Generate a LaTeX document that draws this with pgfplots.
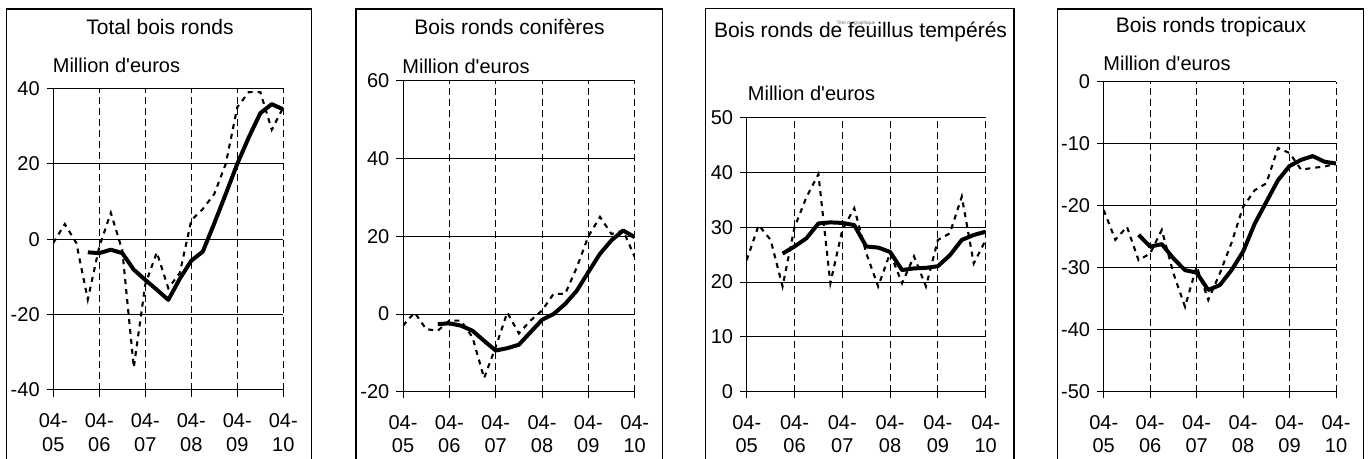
\documentclass[border=0pt]{standalone}
\usepackage{fontspec}
\setmainfont{Liberation Sans}
\usepackage{pgfplots}
\pgfplotsset{compat=1.18}
\pgfplotsset{
  panel/.style={
    scale only axis,
    xmin=0, xmax=20,
    xtick={0,4,8,12,16,20},
    xticklabels={{04-\\05},{04-\\06},{04-\\07},{04-\\08},{04-\\09},{04-\\10}},
    xticklabel style={align=center, font=\fontsize{10}{11.75}\selectfont, yshift=-5pt},
    yticklabel style={font=\fontsize{10}{12}\selectfont},
    axis x line*=bottom, axis y line*=left,
    axis line style={black, line width=0.5pt, -},
    tick align=outside, major tick length=3.3pt,
    tick style={black, line width=0.5pt},
    xmajorgrids, ymajorgrids,
    major x grid style={black, line width=0.5pt, dash pattern=on 3.5pt off 2pt},
    major y grid style={black, line width=0.5pt},
  },
  dsh/.style={black, line width=1.05pt, dash pattern=on 2.5pt off 2.5pt, mark=none},
  sld/.style={black, line width=2pt, mark=none, line join=round},
}
\newcommand{\me}{Million d\textquotesingle euros}
\begin{document}
\begin{tikzpicture}
\useasboundingbox (0,0) rectangle (684pt,229.5pt);
% Panel 1
\begin{axis}[panel, at={(26.65pt,34.5pt)}, anchor=south west, width=115pt, height=150.85pt,
  ymin=-40, ymax=40, ytick={-40,-20,0,20,40}, yticklabels={-40,-20,0,20,40}]
\addplot[dsh] coordinates {(0,-1)(1,4)(2,-1)(3,-16)(4,-2)(5,7)(6,-3)(7,-34)(8,-12)(9,-3.5)(10,-13)(11,-9)(12,5)(13,8)(14,12)(15,20)(16,35)(17,39)(18,39)(19,29)(20,35)};
\addplot[sld] coordinates {(3,-3.5)(4,-3.7)(5,-2.8)(6,-3.7)(7,-8.1)(8,-10.8)(9,-13.4)(10,-16.1)(11,-10.5)(12,-5.7)(13,-3.3)(14,4.2)(15,12)(16,20)(17,27)(18,33.4)(19,35.8)(20,34.4)};
\end{axis}
% Panel 2
\begin{axis}[panel, at={(201.5pt,33.65pt)}, anchor=south west, width=115.85pt, height=155.35pt,
  ymin=-20, ymax=60, ytick={-20,0,20,40,60}, yticklabels={-20,0,20,40,60}]
\addplot[dsh] coordinates {(0,-3)(1,0.4)(2,-3.9)(3,-4.3)(4,-1.7)(5,-1.7)(6,-6)(7,-16.5)(8,-8.5)(9,0.4)(10,-5)(11,-1.7)(12,0.9)(13,5.2)(14,5.2)(15,12)(16,20)(17,25)(18,20.6)(19,21.5)(20,14.7)};
\addplot[sld] coordinates {(3,-2.6)(4,-2.4)(5,-3)(6,-4.3)(7,-6.9)(8,-9.4)(9,-8.8)(10,-7.9)(11,-4.7)(12,-1.5)(13,0)(14,2.6)(15,6)(16,10.8)(17,15.5)(18,19)(19,21.5)(20,19.8)};
\end{axis}
% Panel 3
\begin{axis}[panel, at={(373.35pt,33.65pt)}, anchor=south west, width=119.5pt, height=137pt,
  ymin=0, ymax=50, ytick={0,10,20,30,40,50}, yticklabels={0,10,20,30,40,50}]
\addplot[dsh] coordinates {(0,24)(1,30.4)(2,27.7)(3,19.2)(4,30)(5,35.5)(6,39.7)(7,19.8)(8,29.5)(9,33.5)(10,25.3)(11,19.2)(12,25.3)(13,19.8)(14,24.7)(15,19.2)(16,27.7)(17,28.9)(18,35.6)(19,23.4)(20,27.7)};
\addplot[sld] coordinates {(3,25.2)(4,26.5)(5,28)(6,30.7)(7,30.9)(8,30.8)(9,30.4)(10,26.5)(11,26.3)(12,25.5)(13,22.2)(14,22.5)(15,22.6)(16,22.9)(17,24.9)(18,27.7)(19,28.6)(20,29.2)};
\end{axis}
% Panel 4
\begin{axis}[panel, at={(551.85pt,33.65pt)}, anchor=south west, width=116.15pt, height=155pt,
  ymin=-50, ymax=0, ytick={-50,-40,-30,-20,-10,0}, yticklabels={-50,-40,-30,-20,-10,0}]
\addplot[dsh] coordinates {(0,-20.7)(1,-25.5)(2,-23.4)(3,-28.8)(4,-27.7)(5,-23.9)(6,-30.9)(7,-36.3)(8,-29.8)(9,-35.2)(10,-30.9)(11,-26)(12,-20.2)(13,-17.5)(14,-16.4)(15,-10.7)(16,-11.5)(17,-14.2)(18,-13.9)(19,-13.7)(20,-13.2)};
\addplot[sld] coordinates {(3,-24.7)(4,-26.6)(5,-26.2)(6,-28.5)(7,-30.4)(8,-30.8)(9,-33.6)(10,-32.8)(11,-30.4)(12,-27.4)(13,-22.9)(14,-19.4)(15,-15.9)(16,-13.6)(17,-12.6)(18,-12)(19,-12.9)(20,-13.2)};
\end{axis}
% Frames and titles (pixel coordinates)
\begin{scope}[x=0.5pt, y=-0.5pt, shift={(0,229.5pt)}]
\draw[black, line width=0.65pt] (6.7,459) -- (6.7,9) -- (311.7,9) -- (311.7,459);
\draw[black, line width=0.65pt] (356,459) -- (356,9) -- (662.7,9) -- (662.7,459);
\draw[black, line width=0.65pt] (705.7,459) -- (705.7,8.5) -- (1014,8.5) -- (1014,459);
\draw[black, line width=0.65pt] (1057.3,459) -- (1057.3,9) -- (1363.3,9) -- (1363.3,459);
\node[font=\fontsize{10.5}{12}\selectfont, inner sep=0] at (160,27) {Total bois ronds};
\node[font=\fontsize{10}{12}\selectfont, inner sep=0] at (116.5,65) {\me};
\node[font=\fontsize{10.5}{12}\selectfont, inner sep=0] at (509.5,27) {Bois ronds conifères};
\node[font=\fontsize{10}{12}\selectfont, inner sep=0] at (466,66) {\me};
\node[font=\fontsize{10.5}{12}\selectfont, inner sep=0] at (860.5,32) {Bois ronds de feuillus tempérés};
\node[font=\fontsize{2.4}{3}\selectfont, text=black!60, inner sep=0] at (856,23) {Titre du graphique};
\node[font=\fontsize{10}{12}\selectfont, inner sep=0] at (811.5,93) {\me};
\node[font=\fontsize{10.5}{12}\selectfont, inner sep=0] at (1211,27) {Bois ronds tropicaux};
\node[font=\fontsize{10}{12}\selectfont, inner sep=0] at (1167,63) {\me};
\end{scope}
\end{tikzpicture}
\end{document}
